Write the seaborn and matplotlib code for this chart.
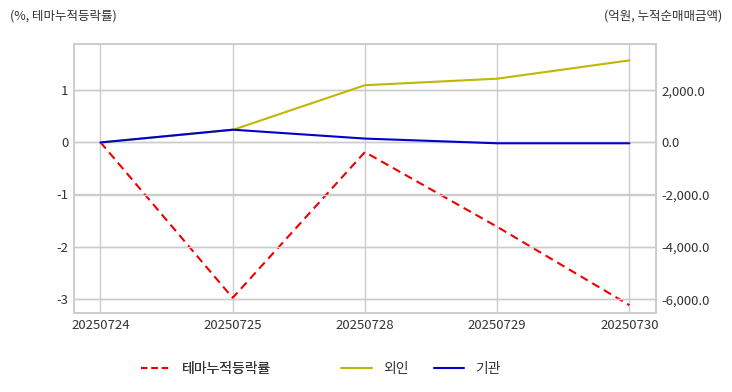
import matplotlib.pyplot as plt
import pandas as pd
import seaborn as sns
from matplotlib.lines import Line2D
from matplotlib.ticker import FuncFormatter

dates = ["20250724", "20250725", "20250728", "20250729", "20250730"]
theme_rate = [0.0, -2.98, -0.19, -1.62, -3.12]   # %, left axis
foreign = [0.0, 480.0, 2190.0, 2440.0, 3140.0]    # 억원, right axis
institution = [0.0, 490.0, 150.0, -30.0, -30.0]   # 억원, right axis

df_left = pd.DataFrame({"date": dates, "value": theme_rate})
df_right = pd.DataFrame({"date": dates * 2,
                         "value": foreign + institution,
                         "series": ["외인"] * 5 + ["기관"] * 5})

sns.set_theme(style="whitegrid")
plt.rcParams["font.family"] = ["Noto Sans CJK KR", "DejaVu Sans"]
plt.rcParams["axes.unicode_minus"] = False
text_color = "#333333"
grid_color = "#cccccc"

fig, ax = plt.subplots(figsize=(7.32, 3.92), dpi=100)
fig.subplots_adjust(left=0.101, right=0.896, top=0.888, bottom=0.2015)

sns.lineplot(df_left, x="date", y="value", ax=ax, color="#ee0000",
             linewidth=1.5, legend=False, dashes=False)
ax.lines[0].set_dashes([4, 2.5])

ax2 = ax.twinx()
sns.lineplot(df_right, x="date", y="value", hue="series", ax=ax2,
             palette={"외인": "#bfb800", "기관": "#0000cc"},
             linewidth=1.5, legend=False)

ax.set_xlim(-0.2, 4.2)
ax.set_ylim(-3.27, 1.88)
ax2.set_ylim(-6520, 3770)
ax.set_yticks([-3, -2, -1, 0, 1])
ax2.set_yticks([-6000, -4000, -2000, 0, 2000])
ax2.yaxis.set_major_formatter(FuncFormatter(lambda v, p: f"{v:,.1f}"))

for a in (ax, ax2):
    a.set_xlabel("")
    a.set_ylabel("")
    a.tick_params(length=0, labelsize=9.5, labelcolor=text_color, pad=4)
    a.grid(True, color=grid_color, linewidth=1.0)
    for s in a.spines.values():
        s.set_color(grid_color)
        s.set_linewidth(1.2)
ax2.grid(axis="x", visible=False)
ax2.set_zorder(ax.get_zorder() + 1)
ax2.patch.set_visible(False)

fig.text(10 / 732, 1 - 16 / 392, "(%, 테마누적등락률)", fontsize=9,
         color=text_color, va="center", ha="left")
fig.text(722 / 732, 1 - 16 / 392, "(억원, 누적순매매금액)", fontsize=9,
         color=text_color, va="center", ha="right")

h1 = [Line2D([], [], color="#ee0000", linewidth=1.5, dashes=[3, 2])]
h2 = [Line2D([], [], color="#bfb800", linewidth=1.5),
      Line2D([], [], color="#0000cc", linewidth=1.5)]
leg1 = fig.legend(h1, ["테마누적등락률"], loc="center", bbox_to_anchor=(206 / 732, 1 - 369 / 392),
                  frameon=False, fontsize=10, handlelength=2.2, labelcolor=text_color)
leg2 = fig.legend(h2, ["외인", "기관"], loc="center", bbox_to_anchor=(421 / 732, 1 - 369 / 392),
                  ncol=2, frameon=False, fontsize=10, handlelength=2.2,
                  columnspacing=1.8, labelcolor=text_color)
fig.add_artist(leg1)

fig.savefig("out.png", dpi=100)
